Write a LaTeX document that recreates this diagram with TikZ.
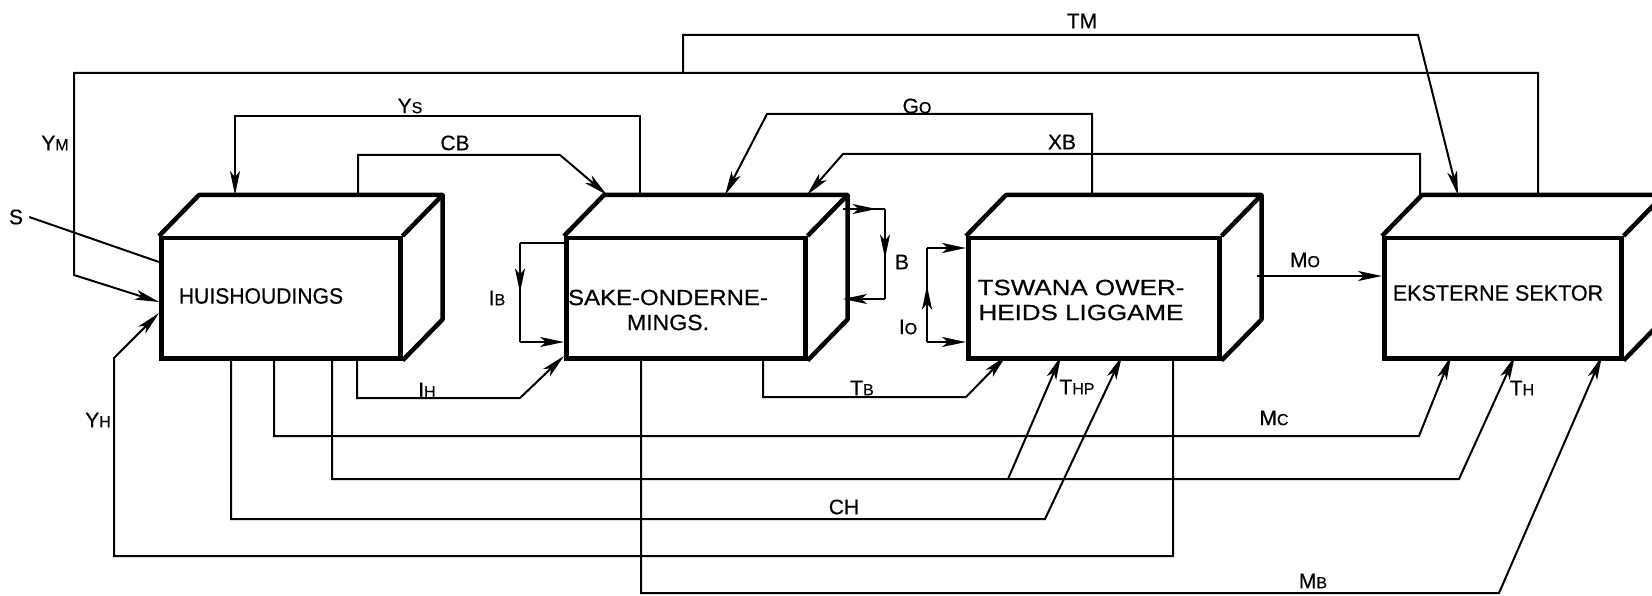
\documentclass[tikz,border=0pt]{standalone}
\usepackage{fontspec}
\usepackage{graphicx}
\setmainfont{Liberation Sans}
\newfontface\lettering{Liberation Sans}[FakeBold=0.5]
\usetikzlibrary{arrows.meta,decorations.markings,calc}
\newcommand{\subsz}{\fontsize{16pt}{16pt}\selectfont}
\newcommand{\mylbl}[2]{#1{\subsz #2}}
\begin{document}
\begin{tikzpicture}[x=1pt,y=-1pt,
  conn/.style={line width=2pt, line join=miter},
  arr/.style={-{Stealth[length=24pt,width=10pt,inset=6pt]}},
  midarr/.style={postaction={decorate}, decoration={markings, mark=at position #1 with {\arrow{Stealth[length=24pt,width=10pt,inset=6pt]}}}},
  box/.style={draw, line width=4.5pt, minimum width=#1, minimum height=120pt, inner sep=0pt, anchor=north west},
  face/.style={line width=4.5pt, line join=round},
  boxtext/.style={font=\lettering\fontsize{22pt}{25pt}\selectfont, align=center, inner sep=0pt},
  lab/.style={font=\lettering\fontsize{21pt}{21pt}\selectfont, inner sep=1pt}
]
\clip (0,0) rectangle (1652,596);
\fill[white] (0,0) rectangle (1652,596);

% ---------- boxes ----------
\node[box=239pt] (hh) at (159,236) {};
\node[box=239pt] (so) at (564,236) {};
\node[box=251pt] (tw) at (966,236) {};
\node[box=237pt] (ek) at (1382,236) {};
\foreach \b in {hh,so,tw,ek}{
  \draw[face] (\b.north west) -- ++(40,-41) -| ($(\b.south east)+(40,-41)$) -- (\b.south east);
  \draw[face] (\b.north east) -- ++(40,-41);
}
\node[boxtext] (hhT) at (261,296) {\scalebox{0.96}[1]{HUISHOUDINGS}};
\node[boxtext] (soT) at (668,310) {\scalebox{1.09}[1]{SAKE-ONDERNE-}\\\scalebox{1.05}[1]{MINGS.}};
\node[boxtext] (twT) at (1081,300) {\scalebox{1.18}[1]{TSWANA OWER-}\\\scalebox{1.18}[1]{HEIDS LIGGAME}};
\node[boxtext] (ekT) at (1498,293) {\scalebox{0.98}[1]{EKSTERNE SEKTOR}};

% ---------- attachment points ----------
\coordinate (hhS) at (159,262);
\coordinate (hhYm) at (159,302);
\coordinate (hhYh) at (159,313);
\coordinate (hhYs) at (235,195);
\coordinate (hhCB) at (358,195);
\coordinate (hhB1) at (231,356);
\coordinate (hhB2) at (274,356);
\coordinate (hhB3) at (332,356);
\coordinate (hhB4) at (357,356);

\coordinate (soIB1) at (564,243);
\coordinate (soIB2) at (564,342);
\coordinate (soIH) at (564,356);
\coordinate (soCB) at (607,195);
\coordinate (soYs) at (640,195);
\coordinate (soGo) at (725,195);
\coordinate (soXB) at (807,195);
\coordinate (soB1) at (843,209);
\coordinate (soB2) at (843,299);
\coordinate (soMB) at (641,356);
\coordinate (soTB) at (763,356);

\coordinate (twIo1) at (966,248);
\coordinate (twIo2) at (966,342);
\coordinate (twGo) at (1092,195);
\coordinate (twTB) at (1006,356);
\coordinate (twTHP1) at (1061,356);
\coordinate (twTHP2) at (1122,356);
\coordinate (twYH) at (1173,356);
\coordinate (twMo) at (1257,276);

\coordinate (ekMo) at (1382,276);
\coordinate (ekXB) at (1420,195);
\coordinate (ekTM) at (1458,195);
\coordinate (ekYm) at (1538,195);
\coordinate (ekMc) at (1451,356);
\coordinate (ekTH) at (1515,356);
\coordinate (ekMB) at (1602,356);

\coordinate (ibA) at (520,243);
\coordinate (ibB) at (520,342);
\coordinate (bA) at (885,209);
\coordinate (bB) at (885,299);
\coordinate (ioA) at (927,248);
\coordinate (ioB) at (927,342);
\coordinate (tmStart) at (683,73);
\coordinate (thpJ) at (1008,479);

% ---------- connectors ----------
\node[lab] (Slab) at (16,217) {S};
\draw[conn] (Slab.east) ++(5,0) -- (hhS);
\draw[conn,arr] (ekYm) -- (1538,73) -- (74,73) -- (74,275) -- (hhYm);
\draw[conn,arr] (tmStart) -- (683,35) -- (1418,35) -- (ekTM);
\draw[conn,arr] (soYs) -- (640,116) -- (235,116) -- (hhYs);
\draw[conn,arr] (hhCB) -- (358,155) -- (560,155) -- (soCB);
\draw[conn,arr] (twGo) -- (1092,114) -- (767,114) -- (soGo);
\draw[conn,arr] (ekXB) -- (1420,154) -- (843,154) -- (soXB);

\draw[conn] (soIB1) -- (ibA);
\draw[conn,midarr=0.5] (ibA) -- (ibB);
\draw[conn,arr] (ibB) -- (soIB2);

\draw[conn,midarr=0.8] (soB1) -- (bA);
\draw[conn,midarr=0.55] (bA) -- (bB);
\draw[conn,arr] (bB) -- (soB2);

\draw[conn,midarr=0.6] (ioB) -- (ioA);
\draw[conn,arr] (ioA) -- (twIo1);
\draw[conn,arr] (ioB) -- (twIo2);

\draw[conn,arr] (twMo) -- (ekMo);

\draw[conn,arr] (hhB4) -- (357,398) -- (520,398) -- (soIH);
\draw[conn,arr] (soTB) -- (763,397) -- (966,397) -- (twTB);
\draw[conn,arr] (soMB) -- (641,593) -- (1499,593) -- (ekMB);
\draw[conn,arr] (hhB2) -- (274,436) -- (1419,436) -- (ekMc);
\draw[conn,arr] (hhB3) -- (332,479) -- (1459,479) -- (ekTH);
\draw[conn,arr] (thpJ) -- (twTHP1);
\draw[conn,arr] (hhB1) -- (231,519) -- (1045,519) -- (twTHP2);
\draw[conn,arr] (twYH) -- (1173,556) -- (114,556) -- (114,358) -- (hhYh);

% ---------- labels ----------
\node[lab] (lTM) at (1082,21) {TM};
\node[lab] (lYM) at (55,143) {\mylbl{Y}{M}};
\node[lab] (lYs) at (410,106) {\mylbl{Y}{S}};
\node[lab] (lCB) at (455,143) {CB};
\node[lab] (lGo) at (917,106) {\mylbl{G}{O}};
\node[lab] (lXB) at (1062,142) {XB};
\node[lab] (lIB) at (497,298) {\mylbl{I}{B}};
\node[lab] (lB) at (902,262) {B};
\node[lab] (lIo) at (908,327) {\mylbl{I}{O}};
\node[lab] (lMo) at (1305,260) {\mylbl{M}{O}};
\node[lab] (lIH) at (427,390) {\mylbl{I}{H}};
\node[lab] (lTB) at (862,388) {\mylbl{T}{B}};
\node[lab] (lTHP) at (1077,387) {\mylbl{T}{HP}};
\node[lab] (lTH) at (1522,388) {\mylbl{T}{H}};
\node[lab] (lYH) at (98,420) {\mylbl{Y}{H}};
\node[lab] (lMc) at (1274,418) {\mylbl{M}{C}};
\node[lab] (lCH) at (844,507) {CH};
\node[lab] (lMB) at (1313,581) {\mylbl{M}{B}};
\end{tikzpicture}
\end{document}
